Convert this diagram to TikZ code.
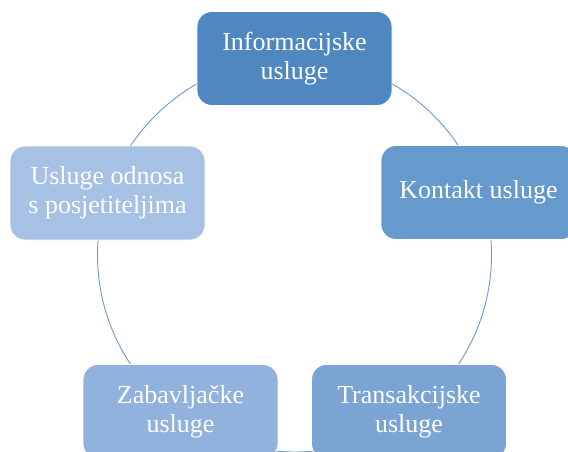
\documentclass[tikz,border=0pt]{standalone}
\usepackage{fontspec}
\setmainfont{Liberation Serif}
\definecolor{cA}{HTML}{4F87C0}
\definecolor{cB}{HTML}{6699CC}
\definecolor{cC}{HTML}{7BA3D4}
\definecolor{cD}{HTML}{90B2DC}
\definecolor{cE}{HTML}{A6C1E4}
\definecolor{ring}{HTML}{6A9ACF}
\begin{document}
\begin{tikzpicture}[x=1pt,y=-1pt,
  box/.style={draw=white,line width=0.8pt,rounded corners=15pt,minimum width=195pt,minimum height=94pt,
    text=white,font=\fontsize{26}{29}\selectfont,align=center,inner sep=0pt}]
\useasboundingbox (0,0) rectangle (568,452);
\fill[white] (0,0) rectangle (568,452);
\coordinate (c) at (294.5,255);
\draw[ring,line width=0.9pt] (c) circle[radius=197pt];
\node[box,fill=cA] (info) at (294.5,58.5) {Informacijske\\usluge};
\node[box,fill=cB] (kont) at (478.5,192.5) {Kontakt usluge};
\node[box,fill=cC] (trans) at (409,411.5) {Transakcijske\\usluge};
\node[box,fill=cD] (zab) at (180.5,411.5) {Zabavljačke\\usluge};
\node[box,fill=cE] (odn) at (107.5,193) {Usluge odnosa\\s posjetiteljima};
\end{tikzpicture}
\end{document}
